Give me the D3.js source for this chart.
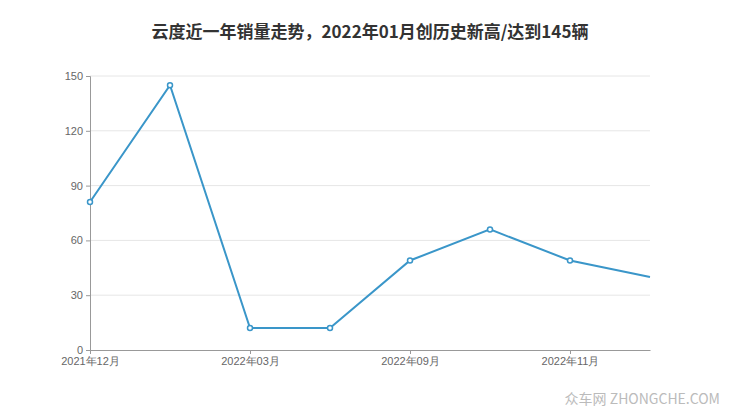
<!DOCTYPE html>
<html><head><meta charset="utf-8">
<script src="https://cdn.jsdelivr.net/npm/d3@7"></script>
<style>body{margin:0;background:#fff;font-family:"Noto Sans CJK SC",sans-serif}</style>
</head><body><svg width="740" height="417"></svg>
<script>
var months = ["2021年12月","2022年01月","2022年03月","2022年05月","2022年09月","2022年10月","2022年11月","2022年12月"];
var sales = [81, 145, 12, 12, 49, 66, 49, 40];
var tickMonths = ["2021年12月","2022年03月","2022年09月","2022年11月"];
var yTicks = [0, 30, 60, 90, 120, 150];

var svg = d3.select("svg");
var x = d3.scalePoint().domain(months).range([90, 650]);
var y = d3.scaleLinear().domain([0, 150]).range([350, 76]);

svg.append("text").attr("x", 370).attr("y", 38).attr("text-anchor", "middle")
  .attr("font-size", 17).attr("font-weight", "bold").attr("fill", "#333")
  .text("云度近一年销量走势，2022年01月创历史新高/达到145辆");

var grid = svg.append("g");
grid.selectAll("line").data(yTicks.slice(1)).enter().append("line")
  .attr("x1", 90).attr("x2", 650).attr("y1", y).attr("y2", y)
  .attr("stroke", "#e6e6e6");

var ya = svg.append("g").attr("transform", "translate(90,0)")
  .call(d3.axisLeft(y).tickValues(yTicks).tickSize(4));
ya.select(".domain").attr("stroke", "#999");
ya.selectAll(".tick line").attr("stroke", "#999");
ya.selectAll("text").attr("fill", "#666").attr("font-size", 11);

var xa = svg.append("g").attr("transform", "translate(0,350)")
  .call(d3.axisBottom(x).tickValues(tickMonths).tickSize(4).tickSizeOuter(0));
xa.select(".domain").attr("stroke", "#999");
xa.selectAll(".tick line").attr("stroke", "#999");
xa.selectAll("text").attr("fill", "#666").attr("font-size", 11);

svg.append("path").datum(sales)
  .attr("d", d3.line().x(function(d, i) { return x(months[i]); }).y(function(d) { return y(d); }))
  .attr("fill", "none").attr("stroke", "#3a96c9").attr("stroke-width", 2);

svg.selectAll("circle.pt").data(sales.slice(0, sales.length - 1)).enter().append("circle")
  .attr("cx", function(d, i) { return x(months[i]); }).attr("cy", y)
  .attr("r", 2.5).attr("fill", "#fff").attr("stroke", "#3a96c9").attr("stroke-width", 1.5);

svg.append("text").attr("x", 720).attr("y", 404).attr("text-anchor", "end")
  .attr("font-size", 14).attr("fill", "#bbb").text("众车网  ZHONGCHE.COM");
</script></body></html>
